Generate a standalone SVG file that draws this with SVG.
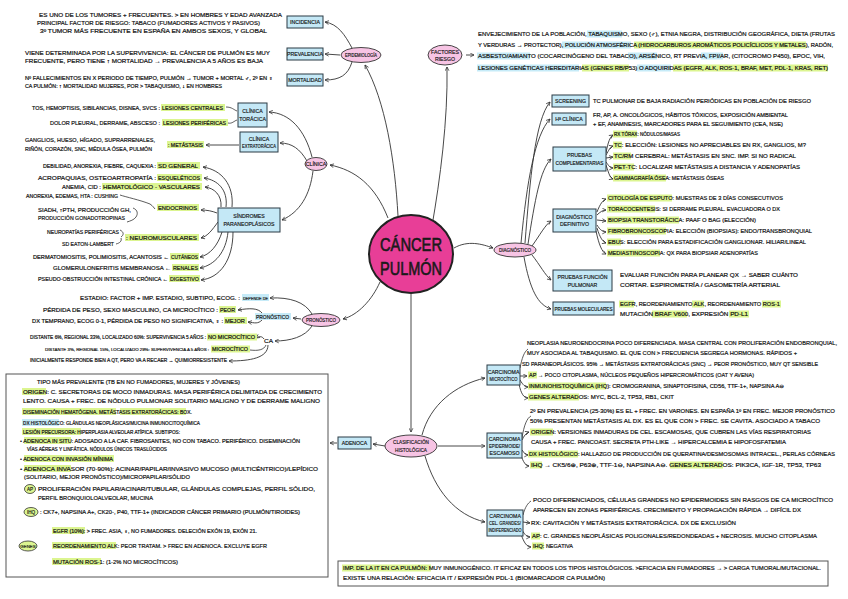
<svg xmlns="http://www.w3.org/2000/svg" width="848" height="599" viewBox="0 0 848 599">
<defs>
<marker id="ah" viewBox="0 0 8 8" refX="7" refY="4" markerWidth="5" markerHeight="5" orient="auto" markerUnits="userSpaceOnUse"><path d="M1,1 L7,4 L1,7" fill="none" stroke="#333" stroke-width="1.2"/></marker>
</defs>
<style>
.t{font-family:"Liberation Sans","DejaVu Sans",sans-serif;font-size:5.4px;fill:#111;stroke:#111;stroke-width:0.18px}
.b{font-family:"Liberation Sans","DejaVu Sans",sans-serif;font-size:5.2px;fill:#111;stroke:#111;stroke-width:0.15px;text-anchor:middle}
.s5{font-size:5px}
.s47{font-size:4.7px}
.s45{font-size:4.5px}
.s43{font-size:4.3px}
.box{fill:#c4e8f6;stroke:#2b3b45;stroke-width:1}
.ell{fill:#f7c4e4;stroke:#333;stroke-width:0.9}
.hg{fill:#dcf590}
.hb{fill:#c6ebf8}
.c{fill:none;stroke:#333;stroke-width:0.9;marker-end:url(#ah)}
.cn{fill:none;stroke:#333;stroke-width:0.8}
.frame{fill:#fff;stroke:#555;stroke-width:1}
</style>
<rect width="848" height="599" fill="#fff"/>

<g id="connectors">
<path class="c" d="M 398 216 C 395 160, 385 100, 365 65"/>
<path class="c" d="M 432 226 C 440 180, 448 120, 447 67"/>
<path class="c" d="M 388 218 C 375 185, 355 170, 330 165"/>
<path class="c" d="M 380 282 C 372 300, 358 315, 343 319"/>
<path class="c" d="M 411 294 L 411 432"/>
<path class="c" d="M 454 248 C 468 240, 482 244, 493 248"/>
<path class="c" d="M 352 48 C 345 35, 338 24, 325 22"/>
<path class="c" d="M 340 55 L 325 54"/>
<path class="c" d="M 352 62 C 348 75, 340 80, 325 80"/>
<path class="c" d="M 312 157 C 305 130, 290 113, 269 112"/>
<path class="c" d="M 307 161 C 300 149, 292 143, 280 143"/>
<path class="c" d="M 313 171 C 310 195, 300 212, 282 220"/>
<path class="cn" d="M 226 107 C 232 107, 234 110, 237 111"/>
<path class="cn" d="M 228 123 C 232 124, 234 121, 237 120"/>
<path class="c" d="M 239 145 L 206 145"/>
<path class="c" d="M 232 207 C 234 185, 222 170, 203 167"/>
<path class="c" d="M 226 207 C 228 190, 218 180, 204 178"/>
<path class="c" d="M 221 207 C 222 195, 214 188, 205 187"/>
<path class="c" d="M 217 213 C 212 211, 207 210, 201 210"/>
<path class="c" d="M 218 222 C 212 230, 208 236, 201 238"/>
<path class="c" d="M 222 232 C 218 245, 210 255, 200 257"/>
<path class="c" d="M 228 232 C 226 252, 215 265, 200 268"/>
<path class="c" d="M 233 232 C 233 260, 220 278, 201 280"/>
<path class="cn" d="M 120 195 C 126 197, 140 200, 150 204 C 153 206, 154 208, 155 209"/>
<path class="cn" d="M 133 208 C 138 210, 138 214, 136 217 C 134 220, 130 221, 127 222"/>
<path class="cn" d="M 120 230 C 124 232, 124 235, 121 237 M 116 244 C 120 243, 122 241, 121 238"/>
<path class="c" d="M 312 314 C 305 302, 290 297, 270 298"/>
<path class="c" d="M 301 319 L 293 318"/>
<path class="c" d="M 312 326 C 305 337, 290 341, 275 341"/>
<path class="c" d="M 262 313 C 258 308, 250 308, 238 310"/>
<path class="c" d="M 262 320 C 258 324, 255 323, 248 322"/>
<path class="c" d="M 264 339 C 262 336, 259 336, 256 338"/>
<path class="cn" d="M 266 345 C 264 350, 258 351, 250 350"/>
<path class="c" d="M 268 345 C 268 358, 250 361, 229 361"/>
<path class="c" d="M 385 446 L 373 444"/>
<path class="c" d="M 337 443 L 330 443"/>
<path class="c" d="M 422 435 C 430 405, 455 385, 485 378"/>
<path class="c" d="M 438 446 L 485 446"/>
<path class="c" d="M 425 456 C 435 490, 455 515, 485 522"/>
<path class="c" d="M 466 55 L 474 55"/>
<path class="c" d="M 525 243 C 530 180, 535 120, 550 102"/>
<path class="c" d="M 521 243 C 527 180, 535 135, 550 119"/>
<path class="c" d="M 528 244 C 535 200, 540 170, 551 159"/>
<path class="c" d="M 532 246 C 540 235, 545 225, 551 221"/>
<path class="c" d="M 532 255 C 540 265, 545 275, 551 280"/>
<path class="c" d="M 524 257 C 530 290, 538 305, 551 309"/>
<path class="c" d="M 606 153 C 608 142, 610 137, 613 135"/>
<path class="c" d="M 606 155 C 609 150, 610 147, 613 146"/>
<path class="c" d="M 606 158 L 613 157"/>
<path class="c" d="M 606 162 C 609 166, 610 168, 613 168"/>
<path class="c" d="M 606 165 C 609 174, 610 178, 613 179"/>
<path class="c" d="M 597 212 C 600 204, 603 200, 606 199"/>
<path class="c" d="M 597 215 C 600 212, 603 210, 606 210"/>
<path class="c" d="M 597 220 L 606 221"/>
<path class="c" d="M 597 225 C 600 230, 603 232, 606 232"/>
<path class="c" d="M 597 228 C 600 238, 603 242, 606 243"/>
<path class="c" d="M 596 231 C 599 245, 602 252, 606 254"/>
<path class="cn" d="M 520 368 C 522 358, 524 352, 528 349"/>
<path class="c" d="M 520 376 L 527 376"/>
<path class="c" d="M 520 380 C 523 385, 525 387, 528 387"/>
<path class="c" d="M 519 384 C 521 394, 524 398, 528 398"/>
<path class="cn" d="M 522 438 C 524 425, 527 418, 531 416"/>
<path class="c" d="M 522 440 C 524 436, 526 433, 529 432"/>
<path class="c" d="M 522 450 C 524 453, 526 455, 528 455"/>
<path class="c" d="M 521 455 C 523 462, 526 466, 529 466"/>
<path class="cn" d="M 523 515 C 525 507, 528 503, 531 501"/>
<path class="c" d="M 523 522 L 530 523"/>
<path class="c" d="M 522 530 C 525 535, 527 537, 530 537"/>
<path class="c" d="M 521 534 C 524 543, 527 547, 531 547"/>
<path class="c" d="M 32 541 C 38 535, 44 533, 51 532"/>
<path class="c" d="M 38 546 L 51 547"/>
<path class="c" d="M 32 551 C 38 560, 44 563, 51 563"/>
</g>

<g id="cancer-pulmon">
<ellipse cx="411" cy="254" rx="42" ry="39" fill="#e83e97" stroke="#222" stroke-width="2"/>
<text x="411" y="251" text-anchor="middle" font-family="Liberation Sans, Arial, sans-serif" font-size="19" fill="#1a1a1a" stroke="#1a1a1a" stroke-width="0.6" textLength="62" lengthAdjust="spacingAndGlyphs">CÁNCER</text>
<text x="411" y="275" text-anchor="middle" font-family="Liberation Sans, Arial, sans-serif" font-size="19" fill="#1a1a1a" stroke="#1a1a1a" stroke-width="0.6" textLength="62" lengthAdjust="spacingAndGlyphs">PULMÓN</text>
</g>

<g id="epidemiologia">
<ellipse class="ell" cx="361" cy="55" rx="20" ry="7.5"/>
<text class="b" x="361" y="57" textLength="32" lengthAdjust="spacingAndGlyphs" style="font-size:4.8px">EPIDEMIOLOGÍA</text>
</g>

<g id="incidencia">
<rect class="box" x="287" y="16" width="36" height="12"/>
<text class="b" x="305" y="24">INCIDENCIA</text>
<text class="t" x="39" y="17" textLength="243" lengthAdjust="spacingAndGlyphs">ES UNO DE LOS TUMORES + FRECUENTES. &gt; EN HOMBRES Y EDAD AVANZADA</text>
<text class="t" x="37" y="25" textLength="223" lengthAdjust="spacingAndGlyphs">PRINCIPAL FACTOR DE RIESGO: TABACO (FUMADORES ACTIVOS Y PASIVOS)</text>
<text class="t" x="40" y="33" textLength="227" lengthAdjust="spacingAndGlyphs">3º TUMOR MÁS FRECUENTE EN ESPAÑA EN AMBOS SEXOS, Y GLOBAL</text>
</g>

<g id="prevalencia">
<rect class="box" x="287" y="48" width="36" height="12"/>
<text class="b" x="305" y="56">PREVALENCIA</text>
<text class="t" x="25" y="55" textLength="245" lengthAdjust="spacingAndGlyphs">VIENE DETERMINADA POR LA SUPERVIVENCIA: EL CÁNCER DE PULMÓN ES MUY</text>
<text class="t" x="25" y="63" textLength="238" lengthAdjust="spacingAndGlyphs">FRECUENTE, PERO TIENE ↑ MORTALIDAD → PREVALENCIA A 5 AÑOS ES BAJA</text>
</g>

<g id="mortalidad">
<rect class="box" x="287" y="74" width="36" height="12"/>
<text class="b" x="305" y="82">MORTALIDAD</text>
<text class="t s5" x="25" y="80" textLength="248" lengthAdjust="spacingAndGlyphs">Nº FALLECIMIENTOS EN X PERIODO DE TIEMPO, PULMÓN → TUMOR + MORTAL ♂, 2º EN ♀</text>
<text class="t s5" x="25" y="88" textLength="197" lengthAdjust="spacingAndGlyphs">CA PULMÓN: ↑ MORTALIDAD MUJERES, POR &gt; TABAQUISMO, ↓ EN HOMBRES</text>
</g>

<g id="clinica">
<ellipse class="ell" cx="316" cy="164" rx="11" ry="6.5"/>
<text class="b" x="316" y="166">CLÍNICA</text>
</g>

<g id="clinica-toracica">
<rect class="box" x="238" y="103" width="29" height="24"/>
<text class="b" x="252.5" y="113">CLÍNICA</text>
<text class="b" x="252.5" y="121">TORÁCICA</text>
<text class="t s47" x="32" y="110" textLength="128" lengthAdjust="spacingAndGlyphs">TOS, HEMOPTISIS, SIBILANCIAS, DISNEA, SVCS :</text>
<rect class="hg" x="161" y="104" width="64" height="7"/>
<text class="t" x="162" y="110" textLength="61" lengthAdjust="spacingAndGlyphs">LESIONES CENTRALES</text>
<text class="t" x="50" y="125" textLength="110" lengthAdjust="spacingAndGlyphs">DOLOR PLEURAL, DERRAME, ABSCESO :</text>
<rect class="hg" x="162" y="119" width="66" height="7"/>
<text class="t s5" x="163" y="125" textLength="63" lengthAdjust="spacingAndGlyphs">LESIONES PERIFÉRICAS</text>
</g>

<g id="clinica-extratoracica">
<rect class="box" x="240" y="132" width="38" height="20"/>
<text class="b" x="259" y="140.5">CLÍNICA</text>
<text class="b" x="259" y="148" textLength="34" lengthAdjust="spacingAndGlyphs" style="font-size:4.6px">EXTRATORÁCICA</text>
<text class="t" x="25" y="142" textLength="130" lengthAdjust="spacingAndGlyphs">GANGLIOS, HUESO, HÍGADO, SUPRARRENALES,</text>
<text class="t s5" x="25" y="151" textLength="127" lengthAdjust="spacingAndGlyphs">RIÑÓN, CORAZÓN, SNC, MÉDULA ÓSEA, PULMÓN</text>
<rect class="hg" x="167" y="141" width="37" height="7"/>
<text class="t s47" x="168" y="147" textLength="35" lengthAdjust="spacingAndGlyphs">: METÁSTASIS</text>
</g>

<g id="sindromes-paraneoplasicos">
<rect class="box" x="218" y="208" width="62" height="24"/>
<text class="b" x="249" y="218">SÍNDROMES</text>
<text class="b" x="249" y="226">PARANEOPLÁSICOS</text>
<text class="t s47" x="43" y="168" textLength="113" lengthAdjust="spacingAndGlyphs">DEBILIDAD, ANOREXIA, FIEBRE, CAQUEXIA :</text>
<rect class="hg" x="157" y="162" width="43" height="7"/>
<text class="t" x="158" y="168" textLength="40" lengthAdjust="spacingAndGlyphs">SD GENERAL</text>
<text class="t" x="38" y="180" textLength="118" lengthAdjust="spacingAndGlyphs">ACROPAQUIAS, OSTEOARTROPATÍA :</text>
<rect class="hg" x="157" y="174" width="45" height="7"/>
<text class="t" x="158" y="180" textLength="42" lengthAdjust="spacingAndGlyphs">ESQUELÉTICOS</text>
<text class="t" x="62" y="189" textLength="39" lengthAdjust="spacingAndGlyphs">ANEMIA, CID :</text>
<rect class="hg" x="102" y="183" width="100" height="7"/>
<text class="t" x="103" y="189" textLength="97" lengthAdjust="spacingAndGlyphs">HEMATOLÓGICO - VASCULARES</text>
<text class="t s47" x="26" y="198" textLength="92" lengthAdjust="spacingAndGlyphs">ANOREXIA, EDEMAS, HTA : CUSHING</text>
<text class="t" x="38" y="212" textLength="93" lengthAdjust="spacingAndGlyphs">SIADH, ↑PTH, PRODUCCIÓN GH,</text>
<text class="t" x="38" y="220" textLength="87" lengthAdjust="spacingAndGlyphs">PRODUCCIÓN GONADOTROPINAS</text>
<rect class="hg" x="157" y="204" width="42" height="7"/>
<text class="t" x="158" y="210" textLength="39" lengthAdjust="spacingAndGlyphs">ENDOCRINOS</text>
<text class="t s5" x="47" y="234" textLength="72" lengthAdjust="spacingAndGlyphs">NEUROPATÍAS PERIFÉRICAS</text>
<text class="t" x="62" y="246" textLength="52" lengthAdjust="spacingAndGlyphs">SD EATON-LAMBERT</text>
<rect class="hg" x="125" y="234" width="74" height="7"/>
<text class="t" x="126" y="240" textLength="71" lengthAdjust="spacingAndGlyphs">: NEUROMUSCULARES</text>
<text class="t s47" x="33" y="259" textLength="136" lengthAdjust="spacingAndGlyphs">DERMATOMIOSITIS, POLIMIOSITIS, ACANTOSIS ←</text>
<rect class="hg" x="170" y="253" width="29" height="7"/>
<text class="t" x="171" y="259" textLength="27" lengthAdjust="spacingAndGlyphs">CUTÁNEOS</text>
<text class="t" x="53" y="270" textLength="118" lengthAdjust="spacingAndGlyphs">GLOMERULONEFRITIS MEMBRANOSA ←</text>
<rect class="hg" x="172" y="264" width="27" height="7"/>
<text class="t" x="173" y="270" textLength="25" lengthAdjust="spacingAndGlyphs">RENALES</text>
<text class="t s5" x="38" y="281" textLength="130" lengthAdjust="spacingAndGlyphs">PSEUDO-OBSTRUCCIÓN INTESTINAL CRÓNICA ←</text>
<rect class="hg" x="169" y="275" width="31" height="7"/>
<text class="t" x="170" y="281" textLength="29" lengthAdjust="spacingAndGlyphs">DIGESTIVO</text>
</g>

<g id="pronostico">
<ellipse class="ell" cx="321" cy="320" rx="19" ry="6.5"/>
<text class="b" x="321" y="322" textLength="30" lengthAdjust="spacingAndGlyphs" style="font-size:4.8px">PRONÓSTICO</text>
<text class="t" x="80" y="300" textLength="160" lengthAdjust="spacingAndGlyphs">ESTADIO: FACTOR + IMP. ESTADIO, SUBTIPO, ECOG. :</text>
<rect class="hb" x="242" y="294" width="27" height="7"/>
<text class="t s43" x="243" y="300" textLength="25" lengthAdjust="spacingAndGlyphs">DEPENDE DE</text>
<text class="t" x="43" y="312" textLength="175" lengthAdjust="spacingAndGlyphs">PÉRDIDA DE PESO, SEXO MASCULINO, CA MICROCÍTICO :</text>
<rect class="hg" x="219" y="306" width="17" height="7"/>
<text class="t" x="220" y="312" textLength="15" lengthAdjust="spacingAndGlyphs">PEOR</text>
<rect class="hb" x="255" y="313" width="36" height="7"/>
<text class="t" x="256" y="319" textLength="33" lengthAdjust="spacingAndGlyphs">PRONÓSTICO</text>
<text class="t s5" x="32" y="323" textLength="191" lengthAdjust="spacingAndGlyphs">DX TEMPRANO, ECOG 0-1, PÉRDIDA DE PESO NO SIGNIFICATIVA, ♀ :</text>
<rect class="hg" x="224" y="317" width="23" height="7"/>
<text class="t" x="225" y="323" textLength="20" lengthAdjust="spacingAndGlyphs">MEJOR</text>
<text class="t s45" x="30" y="339" textLength="176" lengthAdjust="spacingAndGlyphs">DISTANTE 6%, REGIONAL 33%, LOCALIZADO 60%: SUPERVIVENCIA 5 AÑOS :</text>
<rect class="hg" x="207" y="333.5" width="50" height="7"/>
<text class="t s45" x="208" y="339" textLength="47" lengthAdjust="spacingAndGlyphs">NO MICROCÍTICO</text>
<text class="t" x="264" y="343" textLength="9" lengthAdjust="spacingAndGlyphs">CA</text>
<text class="t s43" x="45" y="351" textLength="164" lengthAdjust="spacingAndGlyphs">DISTANTE 3%, REGIONAL 15%, LOCALIZADO 29%: SUPERVIVENCIA A 5 AÑOS :</text>
<rect class="hg" x="211" y="345.5" width="39" height="7"/>
<text class="t s45" x="212" y="351" textLength="36" lengthAdjust="spacingAndGlyphs">MICROCÍTICO</text>
<text class="t s45" x="30" y="362" textLength="197" lengthAdjust="spacingAndGlyphs">INICIALMENTE RESPONDE BIEN A QT, PERO VA A RECAER → QUIMIORRESISTENTE</text>
</g>

<g id="adenoca-detalle">
<rect class="frame" x="6" y="374" width="322" height="203"/>
<text class="t" x="37" y="384" textLength="203" lengthAdjust="spacingAndGlyphs">TIPO MÁS PREVALENTE (TB EN NO FUMADORES, MUJERES Y JÓVENES)</text>
<rect class="hg" x="22" y="388" width="24" height="7"/>
<text class="t" x="23" y="394" textLength="299" lengthAdjust="spacingAndGlyphs">ORIGEN: C. SECRETORAS DE MOCO INMADURAS. MASA PERIFÉRICA DELIMITADA DE CRECIMIENTO</text>
<text class="t" x="23" y="403" textLength="297" lengthAdjust="spacingAndGlyphs">LENTO. CAUSA + FREC. DE NÓDULO PULMONAR SOLITARIO MALIGNO Y DE DERRAME MALIGNO</text>
<rect class="hg" x="22" y="408" width="94" height="7"/>
<rect class="hg" x="120" y="408" width="66" height="7"/>
<text class="t s5" x="23" y="414" textLength="169" lengthAdjust="spacingAndGlyphs">DISEMINACIÓN HEMATÓGENA. METÁSTASIS EXTRATORÁCICAS: BOX.</text>
<rect class="hb" x="22" y="419" width="37" height="7"/>
<text class="t s47" x="23" y="425" textLength="177" lengthAdjust="spacingAndGlyphs">DX HISTOLÓGICO: GLÁNDULAS NEOPLÁSICAS/MUCINA INMUNOCITOQUÍMICA</text>
<rect class="hg" x="22" y="428" width="59" height="7"/>
<text class="t s45" x="23" y="434" textLength="157" lengthAdjust="spacingAndGlyphs">LESIÓN PRECURSORA: HIPERPLASIA ALVEOLAR ATÍPICA. SUBTIPOS:</text>
<rect class="hg" x="24" y="437" width="47" height="7"/>
<text class="t s5" x="20" y="443" textLength="280" lengthAdjust="spacingAndGlyphs">• ADENOCA IN SITU: ADOSADO A LA CAF. FIBROSANTES, NO CON TABACO. PERIFÉRICO. DISEMINACIÓN</text>
<text class="t s45" x="27" y="451" textLength="140" lengthAdjust="spacingAndGlyphs">VÍAS AÉREAS Y LINFÁTICA. NÓDULOS ÚNICOS TRASLÚCIDOS</text>
<rect class="hg" x="24" y="455" width="90" height="7"/>
<text class="t s5" x="20" y="461" textLength="93" lengthAdjust="spacingAndGlyphs">• ADENOCA CON INVASIÓN MÍNIMA</text>
<rect class="hg" x="24" y="465" width="47" height="7"/>
<text class="t" x="20" y="471" textLength="298" lengthAdjust="spacingAndGlyphs">• ADENOCA INVASOR (70-90%): ACINAR/PAPILAR/INVASIVO MUCOSO (MULTICÉNTRICO)/LEPÍDICO</text>
<text class="t" x="24" y="479" textLength="166" lengthAdjust="spacingAndGlyphs">(SOLITARIO, MEJOR PRONÓSTICO)/MICROPAPILAR/SÓLIDO</text>
<ellipse cx="30" cy="489" rx="5.5" ry="4.5" fill="#dcf590" stroke="#333" stroke-width="0.8"/>
<text class="b" x="30" y="491" style="font-size:4.6px">AP</text>
<text class="t" x="38" y="491" textLength="277" lengthAdjust="spacingAndGlyphs">PROLIFERACIÓN PAPILAR/ACINAR/TUBULAR, GLÁNDULAS COMPLEJAS, PERFIL SÓLIDO,</text>
<text class="t" x="38" y="500" textLength="115" lengthAdjust="spacingAndGlyphs">PERFIL BRONQUIOLOALVEOLAR, MUCINA</text>
<ellipse cx="31" cy="512" rx="7" ry="4.5" fill="#dcf590" stroke="#333" stroke-width="0.8"/>
<text class="b" x="31" y="514" style="font-size:4.6px">IHQ</text>
<text class="t s5" x="40" y="514" textLength="260" lengthAdjust="spacingAndGlyphs">: CK7+, NAPSINA A+, CK20-, P40, TTF-1+ (INDICADOR CÁNCER PRIMARIO (PULMÓN/TIROIDES)</text>
<ellipse cx="28" cy="546" rx="9" ry="5" fill="#dcf590" stroke="#333" stroke-width="0.8"/>
<text class="b" x="28" y="548" style="font-size:4.4px">GENES</text>
<rect class="hg" x="52" y="527" width="33" height="7"/>
<text class="t s47" x="53" y="533" textLength="204" lengthAdjust="spacingAndGlyphs">EGFR (10%): &gt; FREC. ASIA, ♀, NO FUMADORES. DELECIÓN EXÓN 19, EXÓN 21.</text>
<rect class="hg" x="52" y="542" width="64" height="7"/>
<text class="t" x="53" y="548" textLength="214" lengthAdjust="spacingAndGlyphs">REORDENAMIENTO ALK: PEOR TRATAM. &gt; FREC EN ADENOCA. EXCLUYE EGFR</text>
<rect class="hg" x="52" y="558" width="49" height="7"/>
<text class="t" x="53" y="564" textLength="125" lengthAdjust="spacingAndGlyphs">MUTACIÓN ROS-1: (1-2% NO MICROCÍTICOS)</text>
</g>

<g id="adenoca">
<rect class="box" x="338" y="437" width="33" height="12"/>
<text class="b" x="354.5" y="445">ADENOCA</text>
</g>

<g id="clasificacion-histologica">
<ellipse class="ell" cx="411" cy="446" rx="26" ry="11"/>
<text class="b" x="411" y="444" textLength="36" lengthAdjust="spacingAndGlyphs">CLASIFICACIÓN</text>
<text class="b" x="411" y="451.5" textLength="32" lengthAdjust="spacingAndGlyphs">HISTOLÓGICA</text>
</g>

<g id="factores-riesgo">
<ellipse class="ell" cx="445" cy="55" rx="17" ry="10"/>
<text class="b" x="445" y="53.5">FACTORES</text>
<text class="b" x="445" y="60.5">RIESGO</text>
<rect class="hb" x="587" y="30.5" width="35" height="7"/>
<text class="t" x="478" y="36" textLength="357" lengthAdjust="spacingAndGlyphs">ENVEJECIMIENTO DE LA POBLACIÓN, TABAQUISMO, SEXO (♂), ETNIA NEGRA, DISTRIBUCIÓN GEOGRÁFICA, DIETA (FRUTAS</text>
<rect class="hb" x="562" y="41.5" width="69" height="7"/>
<rect class="hg" x="634" y="41.5" width="172" height="7"/>
<text class="t s5" x="478" y="47" textLength="355" lengthAdjust="spacingAndGlyphs">Y VERDURAS → PROTECTOR), POLUCIÓN ATMOSFÉRICA (HIDROCARBUROS AROMÁTICOS POLICÍCLICOS Y METALES), RADÓN,</text>
<rect class="hb" x="477" y="52.5" width="53" height="7"/>
<rect class="hb" x="628" y="52.5" width="29" height="7"/>
<rect class="hb" x="701" y="52.5" width="22" height="7"/>
<text class="t" x="478" y="58" textLength="347" lengthAdjust="spacingAndGlyphs">ASBESTO/AMIANTO (COCARCINÓGENO DEL TABACO), ARSÉNICO, RT PREVIA, FPI/AR, (CITOCROMO P450), EPOC, VIH,</text>
<rect class="hb" x="477" y="64.5" width="102" height="7"/>
<rect class="hg" x="582" y="64.5" width="47" height="7"/>
<rect class="hb" x="637" y="64.5" width="34" height="7"/>
<rect class="hg" x="673" y="64.5" width="155" height="7"/>
<text class="t s5" x="478" y="70" textLength="350" lengthAdjust="spacingAndGlyphs">LESIONES GENÉTICAS HEREDITARIAS (GENES RB/P53) O ADQUIRIDAS (EGFR, ALK, ROS-1, BRAF, MET, PDL-1, KRAS, RET)</text>
</g>

<g id="diagnostico">
<ellipse class="ell" cx="515" cy="250" rx="21" ry="7"/>
<text class="b" x="515" y="252" textLength="32" lengthAdjust="spacingAndGlyphs" style="font-size:4.8px">DIAGNÓSTICO</text>
</g>

<g id="screening">
<rect class="box" x="552" y="95" width="37" height="12"/>
<text class="b" x="570.5" y="103">SCREENING</text>
<text class="t" x="593" y="103" textLength="218" lengthAdjust="spacingAndGlyphs">TC PULMONAR DE BAJA RADIACIÓN PERIÓDICAS EN POBLACIÓN DE RIESGO</text>
</g>

<g id="historia-clinica">
<rect class="box" x="552" y="113" width="34" height="12"/>
<text class="b" x="569" y="121">Hª CLÍNICA</text>
<text class="t s5" x="593" y="117" textLength="195" lengthAdjust="spacingAndGlyphs">FR, AP, A. ONCOLÓGICOS, HÁBITOS TÓXICOS, EXPOSICIÓN AMBIENTAL</text>
<text class="t s5" x="593" y="126" textLength="190" lengthAdjust="spacingAndGlyphs">+ EF, ANAMNESIS, MARCADORES PARA EL SEGUIMIENTO (CEA, NSE)</text>
</g>

<g id="pruebas-complementarias">
<rect class="box" x="553" y="147" width="53" height="24"/>
<text class="b" x="579.5" y="157">PRUEBAS</text>
<text class="b" x="579.5" y="165" style="font-size:4.8px">COMPLEMENTARIAS</text>
<rect class="hg" x="613" y="130.5" width="24" height="7"/>
<text class="t s45" x="614" y="136" textLength="66" lengthAdjust="spacingAndGlyphs">RX TÓRAX: NÓDULOS/MASAS</text>
<rect class="hg" x="613" y="141.5" width="9" height="7"/>
<text class="t" x="614" y="147" textLength="192" lengthAdjust="spacingAndGlyphs">TC: ELECCIÓN: LESIONES NO APRECIABLES EN RX, GANGLIOS, M?</text>
<rect class="hg" x="613" y="152.5" width="18" height="7"/>
<text class="t" x="614" y="158" textLength="182" lengthAdjust="spacingAndGlyphs">TC/RM CEREBRAL: METÁSTASIS EN SNC. IMP. SI NO RADICAL</text>
<rect class="hg" x="613" y="163.5" width="21" height="7"/>
<text class="t" x="614" y="169" textLength="186" lengthAdjust="spacingAndGlyphs">PET-TC: LOCALIZAR METÁSTASIS A DISTANCIA Y ADENOPATÍAS</text>
<rect class="hg" x="613" y="174.5" width="53" height="7"/>
<text class="t s5" x="614" y="180" textLength="110" lengthAdjust="spacingAndGlyphs">GAMMAGRAFÍA ÓSEA: METÁSTASIS ÓSEAS</text>
</g>

<g id="diagnostico-definitivo">
<rect class="box" x="553" y="209" width="43" height="23"/>
<text class="b" x="574.5" y="218.5">DIAGNÓSTICO</text>
<text class="b" x="574.5" y="226">DEFINITIVO</text>
<rect class="hg" x="607" y="194.5" width="65" height="7"/>
<text class="t" x="608" y="200" textLength="175" lengthAdjust="spacingAndGlyphs">CITOLOGÍA DE ESPUTO: MUESTRAS DE 3 DÍAS CONSECUTIVOS</text>
<rect class="hg" x="607" y="205.5" width="48" height="7"/>
<text class="t" x="608" y="211" textLength="172" lengthAdjust="spacingAndGlyphs">TORACOCENTESIS: SI DERRAME PLEURAL. EVACUADORA O DX</text>
<rect class="hg" x="607" y="216.5" width="72" height="7"/>
<text class="t" x="608" y="222" textLength="148" lengthAdjust="spacingAndGlyphs">BIOPSIA TRANSTORÁCICA: PAAF O BAG (ELECCIÓN)</text>
<rect class="hg" x="607" y="227.5" width="59" height="7"/>
<text class="t" x="608" y="233" textLength="204" lengthAdjust="spacingAndGlyphs">FIBROBRONCOSCOPIA: ELECCIÓN (BIOPSIAS): ENDO/TRANSBRONQUIAL</text>
<rect class="hg" x="607" y="238.5" width="14" height="7"/>
<text class="t" x="608" y="244" textLength="198" lengthAdjust="spacingAndGlyphs">EBUS: ELECCIÓN PARA ESTADIFICACIÓN GANGLIONAR. HILIAR/LINEAL</text>
<rect class="hg" x="607" y="249.5" width="53" height="7"/>
<text class="t" x="608" y="255" textLength="150" lengthAdjust="spacingAndGlyphs">MEDIASTINOSCOPIA: QX PARA BIOPSIAR ADENOPATÍAS</text>
</g>

<g id="pruebas-funcion-pulmonar">
<rect class="box" x="553" y="270" width="59" height="21"/>
<text class="b" x="582.5" y="279">PRUEBAS FUNCIÓN</text>
<text class="b" x="582.5" y="286.5">PULMONAR</text>
<text class="t" x="620" y="277" textLength="178" lengthAdjust="spacingAndGlyphs">EVALUAR FUNCIÓN PARA PLANEAR QX → SABER CUÁNTO</text>
<text class="t" x="620" y="287" textLength="160" lengthAdjust="spacingAndGlyphs">CORTAR. ESPIROMETRÍA / GASOMETRÍA ARTERIAL</text>
</g>

<g id="pruebas-moleculares">
<rect class="box" x="553" y="302" width="61" height="13"/>
<text class="b" x="583.5" y="310.5" style="font-size:4.6px">PRUEBAS MOLECULARES</text>
<rect class="hg" x="619" y="300.5" width="15" height="7"/>
<rect class="hg" x="692" y="300.5" width="12" height="7"/>
<rect class="hg" x="762" y="300.5" width="19" height="7"/>
<text class="t" x="620" y="306" textLength="160" lengthAdjust="spacingAndGlyphs">EGFR, REORDENAMIENTO ALK, REORDENAMIENTO ROS-1</text>
<rect class="hg" x="652" y="310.5" width="35" height="7"/>
<rect class="hg" x="729" y="310.5" width="20" height="7"/>
<text class="t" x="620" y="316" textLength="128" lengthAdjust="spacingAndGlyphs">MUTACIÓN BRAF V600, EXPRESIÓN PD-L1</text>
</g>

<g id="carcinoma-microcitico">
<rect class="box" x="487" y="365" width="33" height="20"/>
<text class="b" x="503.5" y="373.5">CARCINOMA</text>
<text class="b" x="503.5" y="381" textLength="28" lengthAdjust="spacingAndGlyphs">MICROCÍTICO</text>
<text class="t" x="527" y="345" textLength="310" lengthAdjust="spacingAndGlyphs">NEOPLASIA NEUROENDOCRINA POCO DIFERENCIADA. MASA CENTRAL CON PROLIFERACIÓN ENDOBRONQUIAL,</text>
<text class="t" x="527" y="355" textLength="270" lengthAdjust="spacingAndGlyphs">MUY ASOCIADA AL TABAQUISMO. EL QUE CON &gt; FRECUENCIA SEGREGA HORMONAS. RÁPIDOS +</text>
<text class="t s5" x="522" y="366" textLength="296" lengthAdjust="spacingAndGlyphs">SD PARANEOPLÁSICOS. 95% → METÁSTASIS EXTRATORÁCICAS (SNC) → PEOR PRONÓSTICO, MUY QT SENSIBLE</text>
<rect class="hg" x="528" y="371.5" width="9" height="7"/>
<text class="t" x="529" y="377" textLength="225" lengthAdjust="spacingAndGlyphs">AP → POCO CITOPLASMA, NÚCLEOS PEQUEÑOS HIPERCROMÁTICOS (OAT Y AVENA)</text>
<rect class="hg" x="528" y="382.5" width="78" height="7"/>
<text class="t s5" x="529" y="388" textLength="255" lengthAdjust="spacingAndGlyphs">INMUNOHISTOQUÍMICA (IHQ): CROMOGRANINA, SINAPTOFISINA, CD56, TTF-1+, NAPSINA A⊖</text>
<rect class="hg" x="528" y="393.5" width="51" height="7"/>
<text class="t" x="529" y="399" textLength="145" lengthAdjust="spacingAndGlyphs">GENES ALTERADOS: MYC, BCL-2, TP53, RB1, CKIT</text>
</g>

<g id="carcinoma-epidermoide">
<rect class="box" x="487" y="433" width="35" height="25"/>
<text class="b" x="504.5" y="440.5">CARCINOMA</text>
<text class="b" x="504.5" y="447.5" textLength="31" lengthAdjust="spacingAndGlyphs">EPIDERMOIDE/</text>
<text class="b" x="504.5" y="454.5">ESCAMOSO</text>
<text class="t" x="530" y="413" textLength="305" lengthAdjust="spacingAndGlyphs">2º EN PREVALENCIA (25-30%) ES EL + FREC. EN VARONES. EN ESPAÑA 1º EN FREC. MEJOR PRONÓSTICO</text>
<text class="t" x="530" y="423" textLength="290" lengthAdjust="spacingAndGlyphs">50% PRESENTAN METÁSTASIS AL DX. ES EL QUE CON &gt; FREC. SE CAVITA. ASOCIADO A TABACO</text>
<rect class="hg" x="530" y="428.5" width="23" height="7"/>
<text class="t" x="531" y="434" textLength="280" lengthAdjust="spacingAndGlyphs">ORIGEN: VERSIONES INMADURAS DE CEL. ESCAMOSAS, QUE CUBREN LAS VÍAS RESPIRATORIAS</text>
<text class="t" x="531" y="444" textLength="255" lengthAdjust="spacingAndGlyphs">CAUSA + FREC. PANCOAST. SECRETA PTH-LIKE → HIPERCALCEMIA E HIPOFOSFATEMIA</text>
<rect class="hg" x="528" y="450.5" width="50" height="7"/>
<text class="t" x="529" y="456" textLength="306" lengthAdjust="spacingAndGlyphs">DX HISTOLÓGICO: HALLAZGO DE PRODUCCIÓN DE QUERATINA/DESMOSOMAS INTRACEL., PERLAS CÓRNEAS</text>
<rect class="hg" x="530" y="461.5" width="12" height="7"/>
<rect class="hg" x="670" y="461.5" width="53" height="7"/>
<text class="t" x="531" y="467" textLength="290" lengthAdjust="spacingAndGlyphs">IHQ → CK5/6⊕, P63⊕, TTF-1⊖, NAPSINA A⊖. GENES ALTERADOS: PIK3CA, IGF-1R, TP53, TP63</text>
</g>

<g id="carcinoma-celulas-grandes">
<rect class="box" x="487" y="510" width="36" height="26"/>
<text class="b" x="505" y="517.5">CARCINOMA</text>
<text class="b" x="505" y="524.5" textLength="32" lengthAdjust="spacingAndGlyphs">CEL. GRANDES/</text>
<text class="b" x="505" y="531.5" textLength="33" lengthAdjust="spacingAndGlyphs" style="font-size:4.6px">INDIFERENCIADO</text>
<text class="t" x="533" y="502" textLength="300" lengthAdjust="spacingAndGlyphs">POCO DIFERENCIADOS, CÉLULAS GRANDES NO EPIDERMOIDES SIN RASGOS DE CA MICROCÍTICO</text>
<text class="t" x="533" y="512" textLength="268" lengthAdjust="spacingAndGlyphs">APARECEN EN ZONAS PERIFÉRICAS. CRECIMIENTO Y PROPAGACIÓN RÁPIDA → DIFÍCIL DX</text>
<text class="t" x="531" y="525" textLength="205" lengthAdjust="spacingAndGlyphs">RX: CAVITACIÓN Y METÁSTASIS EXTRATORÁCICA. DX DE EXCLUSIÓN</text>
<rect class="hg" x="531" y="532.5" width="9" height="7"/>
<text class="t" x="532" y="538" textLength="285" lengthAdjust="spacingAndGlyphs">AP: C. GRANDES NEOPLÁSICAS POLIGONALES/REDONDEADAS + NECROSIS. MUCHO CITOPLASMA</text>
<rect class="hg" x="532" y="542.5" width="12" height="7"/>
<text class="t" x="533" y="548" textLength="40" lengthAdjust="spacingAndGlyphs">IHQ: NEGATIVA</text>
</g>

<g id="inmunoterapia">
<rect class="frame" x="338" y="561" width="490" height="25"/>
<rect class="hg" x="342" y="564.5" width="89" height="7"/>
<text class="t" x="343" y="570" textLength="478" lengthAdjust="spacingAndGlyphs">IMP. DE LA IT EN CA PULMÓN: MUY INMUNOGÉNICO. IT EFICAZ EN TODOS LOS TIPOS HISTOLÓGICOS. &gt;EFICACIA EN FUMADORES → &gt; CARGA TUMORAL/MUTACIONAL.</text>
<text class="t" x="343" y="580" textLength="262" lengthAdjust="spacingAndGlyphs">EXISTE UNA RELACIÓN: EFICACIA IT / EXPRESIÓN PDL-1 (BIOMARCADOR CA PULMÓN)</text>
</g>
</svg>
